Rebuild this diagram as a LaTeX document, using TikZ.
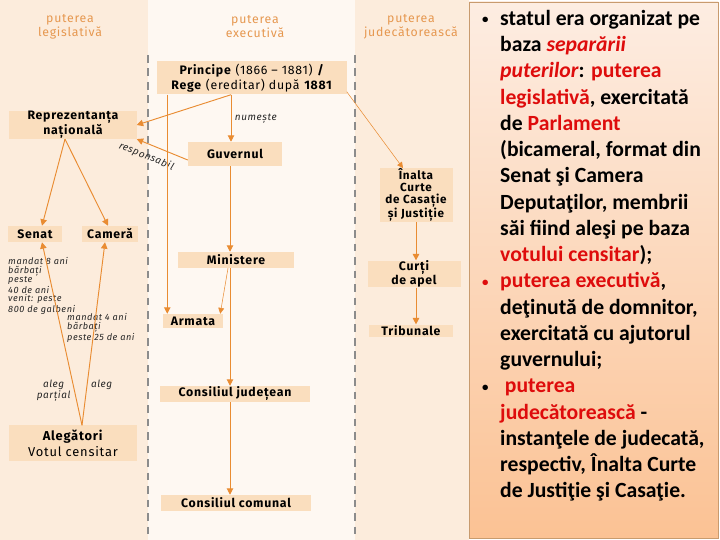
\documentclass[tikz,border=0pt]{standalone}
\usepackage{fontspec}
\setmainfont{Fira Sans}
\newfontfamily\boxfont[LetterSpace=6]{Fira Sans}
\newfontfamily\panelfont{Carlito}
\usepackage{xcolor}
\usetikzlibrary{arrows.meta, positioning}
\definecolor{peach}{RGB}{252,236,220}
\definecolor{cream}{RGB}{254,248,242}
\definecolor{boxfill}{RGB}{250,222,190}
\definecolor{orangeline}{RGB}{233,140,50}
\definecolor{headorange}{RGB}{230,152,80}
\definecolor{sepgray}{RGB}{140,140,140}
\definecolor{paneltop}{RGB}{253,237,226}
\definecolor{panelbottom}{RGB}{251,194,148}
\definecolor{panelborder}{RGB}{200,155,110}
\definecolor{hilite}{RGB}{222,12,12}

\begin{document}
\begin{tikzpicture}[
        x=0.03cm, y=-0.03cm,
        box/.style={rectangle, fill=boxfill, inner sep=0pt, align=center, font=\boxfont\fontsize{10.5}{12}\selectfont\bfseries},
        head/.style={align=center, text=headorange, font=\boxfont\fontsize{10.5}{12}\selectfont},
        note/.style={align=left, inner sep=0pt, text=black!85, font=\boxfont\fontsize{7.8}{7.4}\selectfont\itshape},
        edgetext/.style={align=center, inner sep=3pt, text=black!85, font=\boxfont\fontsize{8.5}{9.5}\selectfont\itshape},
        arrow/.style={-{Triangle[width=5.5pt,length=5.5pt]}, orangeline, line width=0.8pt},
        thinarrow/.style={-{Triangle[width=5pt,length=5pt]}, orangeline, line width=0.45pt},
        sepline/.style={sepgray, line width=1pt, dash pattern=on 6.5pt off 5pt},
        paneltext/.style={align=left, inner sep=0pt, font=\panelfont\fontsize{18.5}{22.4}\selectfont\bfseries}
    ]
        \useasboundingbox (0,0) rectangle (720,540);

        % Columns
        \fill[peach] (0,0) rectangle (148,540);
        \fill[cream] (148,0) rectangle (355,540);
        \fill[peach] (355,0) rectangle (469,540);
        \draw[sepline] (148,55) -- (148,540);
        \draw[sepline] (355,55) -- (355,540);

        \node[head] (hleg) at (70,27) {puterea\\legislativă};
        \node[head] (hexe) at (255,27) {puterea\\executivă};
        \node[head] (hjud) at (411,27) {puterea\\judecătorească};

        % Executive
        \node[box, minimum width=5.67cm, minimum height=0.99cm, font=\boxfont\fontsize{10.5}{12.5}\selectfont] (principe) at (252,78) {\textbf{Principe} (1866 – 1881) \textbf{/}\\\textbf{Rege} (ereditar) după \textbf{1881}};
        \node[box, minimum width=2.82cm, minimum height=0.72cm] (guvernul) at (235,154) {Guvernul};
        \node[box, minimum width=3.45cm, minimum height=0.48cm] (ministere) at (236,260) {Ministere};
        \node[box, minimum width=1.8cm, minimum height=0.42cm] (armata) at (193,321) {Armata};
        \node[box, minimum width=4.47cm, minimum height=0.48cm] (judetean) at (235,394) {Consiliul județean};
        \node[box, minimum width=4.47cm, minimum height=0.48cm] (comunal) at (236,503) {Consiliul comunal};

        % Legislative
        \node[box, minimum width=3.81cm, minimum height=0.72cm] (reprez) at (73,125) {Reprezentanța\\națională};
        \node[box, minimum width=1.62cm, minimum height=0.48cm] (senat) at (35,234) {Senat};
        \node[box, minimum width=1.65cm, minimum height=0.48cm] (camera) at (110,234) {Cameră};
        \node[box, minimum width=3.81cm, minimum height=1.05cm, font=\boxfont\fontsize{11}{14}\selectfont] (alegatori) at (73,443) {\textbf{Alegători}\\Votul censitar};
        \node[note, anchor=north west] (senatnote) at (8,257) {mandat 8 ani\\bărbați\\peste\\40 de ani\\venit: peste\\800 de galbeni};
        \node[note, anchor=north west] (cameranote) at (67,313) {mandat 4 ani\\bărbați\\peste 25 de ani};

        % Judicial
        \node[box, minimum width=2.19cm, minimum height=1.6cm, font=\boxfont\fontsize{10}{10.2}\selectfont\bfseries] (curte) at (416,195) {Înalta\\Curte\\de Casație\\și Justiție};
        \node[box, minimum width=2.79cm, minimum height=0.78cm] (curti) at (414,274) {Curți\\de apel};
        \node[box, minimum width=2.52cm, minimum height=0.38cm] (tribunale) at (411,331) {Tribunale};

        % Arrows
        \coordinate (pstem) at ([xshift=-0.63cm]principe.south);
        \coordinate (pleft) at ([xshift=0.3cm]principe.south west);
        \coordinate (estem) at ([xshift=-0.15cm]guvernul.south);
        \coordinate (rfoot) at ([xshift=-0.24cm]reprez.south);
        \coordinate (vtop) at ([xshift=0.27cm]alegatori.north);

        \draw[arrow] (pstem) -- (reprez.east);
        \draw[arrow] (pstem) -- node[edgetext, right] {numește} (pstem |- guvernul.north);
        \draw[arrow] ([yshift=-0.18cm]guvernul.west) -- node[edgetext, sloped, below=3pt, pos=0.72] {responsabil} (reprez.south east);
        \draw[arrow] (pleft) -- (pleft |- armata.north);
        \draw[thinarrow] ([yshift=0.09cm]principe.south east) -- ([xshift=-0.39cm]curte.north);
        \draw[arrow] (estem) -- (estem |- ministere.north);
        \draw[thinarrow] ([xshift=-0.24cm]ministere.south) -- ([xshift=-0.09cm]armata.north east);
        \draw[arrow] (estem |- ministere.south) -- (estem |- judetean.north);
        \draw[arrow] (estem |- judetean.south) -- (estem |- comunal.north);

        \draw[arrow] (rfoot) -- ([xshift=0.21cm]senat.north);
        \draw[arrow] (rfoot) -- ([xshift=-0.06cm]camera.north);
        \draw[arrow] (vtop) -- node[edgetext, left, pos=0.19] {aleg\\parțial} ([xshift=0.21cm]senat.south);
        \draw[arrow] (vtop) -- node[edgetext, right, pos=0.22] {aleg} ([xshift=-0.15cm]camera.south);

        \draw[arrow] (curte.south) -- (curte.south |- curti.north);
        \draw[arrow] (curte.south |- curti.south) -- (curte.south |- tribunale.north);

        % Text panel
        \shade[top color=paneltop, bottom color=panelbottom] (469,2) rectangle (718,538);
        \draw[panelborder, line width=0.6pt] (469,2) rectangle (718,538);
        \node[paneltext, anchor=north west] (panel) at (500,10) {%
            \llap{\raisebox{1.5pt}{\fontsize{11}{11}\selectfont\textbullet}\hspace{10pt}}statul era organizat pe\\
            baza \textcolor{hilite}{\textit{separării}}\\
            \textcolor{hilite}{\textit{puterilor}}: \textcolor{hilite}{puterea}\\
            \textcolor{hilite}{legislativă}, exercitată\\
            de \textcolor{hilite}{Parlament}\\
            (bicameral, format din\\
            Senat şi Camera\\
            Deputaţilor, membrii\\
            săi fiind aleşi pe baza\\
            \textcolor{hilite}{votului censitar});\\
            \llap{\raisebox{1.5pt}{\fontsize{11}{11}\selectfont\textcolor{hilite}{\textbullet}}\hspace{10pt}}\textcolor{hilite}{puterea executivă},\\
            deţinută de domnitor,\\
            exercitată cu ajutorul\\
            guvernului;\\
            \llap{\raisebox{1.5pt}{\fontsize{11}{11}\selectfont\textbullet}\hspace{10pt}}\hspace{4pt}\textcolor{hilite}{puterea}\\
            \textcolor{hilite}{judecătorească} -\\
            instanţele de judecată,\\
            respectiv, Înalta Curte\\
            de Justiţie şi Casaţie.};

\end{tikzpicture}
\end{document}
